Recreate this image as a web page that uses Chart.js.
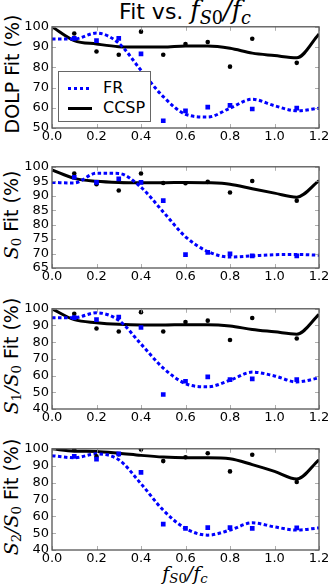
<!DOCTYPE html>
<html>
<head>
<meta charset="utf-8">
<script src="https://cdn.jsdelivr.net/npm/chart.js@4"></script>
<style>
body { margin: 0; background: #fff; }
#fig { position: relative; width: 332px; height: 588px; font-family: "DejaVu Sans", sans-serif; color: #000; }
#fig canvas { position: absolute; left: 0; }
.ylab { position: absolute; white-space: nowrap; transform: translate(-50%, -50%) rotate(-90deg); font-size: 19px; }
.m { font-family: "DejaVu Serif", serif; font-style: italic; }
.m sub { font-size: 0.7em; vertical-align: -0.3em; }
.up { font-style: normal; }
#title { position: absolute; left: 185px; top: 12px; transform: translate(-50%, -50%); font-size: 22px; white-space: nowrap; }
#title .m { font-size: 1.15em; }
#xlab { position: absolute; left: 185px; top: 574px; transform: translate(-50%, -50%); font-size: 19px; white-space: nowrap; }
#legend { position: absolute; left: 58px; top: 71px; width: 91px; height: 49px; border: 1.5px solid #666; background: #fff; font-size: 16px; }
.row { position: absolute; left: 9px; height: 20px; }
.sample { position: absolute; left: 0; top: 9px; width: 24px; height: 3px; }
.row span { position: absolute; left: 35px; top: 0; }
</style>
</head>
<body>
<div id="fig">
  <div id="title">Fit vs. <span class="m">f<sub>S<span class="up">0</span></sub>/f<sub>c</sub></span></div>
  <div class="ylab" style="left:12px;top:74px">DOLP Fit (%)</div>
  <div class="ylab" style="left:12px;top:215px"><span class="m">S<sub class="up">0</sub></span> Fit (%)</div>
  <div class="ylab" style="left:12px;top:356px"><span class="m">S<sub class="up">1</sub>/S<sub class="up">0</sub></span> Fit (%)</div>
  <div class="ylab" style="left:12px;top:497px"><span class="m">S<sub class="up">2</sub>/S<sub class="up">0</sub></span> Fit (%)</div>
  <div id="xlab"><span class="m">f<sub>S<span class="up">0</span></sub>/f<sub>c</sub></span></div>
</div>
<script>
// abscissas
const xLine = [0, 0.1, 0.2, 0.3, 0.4, 0.5, 0.6, 0.7, 0.8, 0.9, 1.0, 1.1, 1.2];
const xPts = [0.1, 0.2, 0.3, 0.4, 0.5, 0.6, 0.7, 0.8, 0.9, 1.1];

// DOLP
const dolpCcspLine = [100, 93.2, 91.5, 90.2, 90, 90, 90.5, 90.5, 89.4, 87, 85.8, 84.7, 96.4];
const dolpFrLine = [94, 94, 96.9, 91.9, 78.5, 65.5, 56.8, 55.4, 59.8, 64.2, 61, 58.5, 59.8];
const dolpCcspPts = [96.7, 87.8, 86.2, 97.6, 86.2, 91.5, 92.5, 80.3, 94.1, 82.2];
const dolpFrPts = [94.3, 93.2, 94.3, 86.6, 53.6, 58.5, 60.3, 61.2, 59.4, 59.8];

// S0
const s0CcspLine = [98.9, 96, 95, 94.6, 94.5, 94.5, 94.6, 94.5, 94, 92.4, 90.9, 89.5, 95.2];
const s0FrLine = [94.6, 94.4, 97.8, 97.7, 92.9, 84.4, 75.8, 70.7, 68.8, 69.2, 69.6, 69.7, 69.4];
const s0CcspPts = [97.7, 94, 91.8, 97.7, 94.4, 94.3, 94.8, 91.1, 95.1, 88.3];
const s0FrPts = [96.4, 94.6, 95.8, 94.6, 88.3, 69.6, 70.4, 69.9, 69.2, 69.2];

// S1/S0
const s1CcspLine = [100, 93.5, 91.7, 90.7, 90.3, 90.3, 90.5, 90.5, 89.7, 87.6, 86.2, 84.8, 96.6];
const s1FrLine = [94.7, 94.7, 97.6, 93.1, 78.9, 64.5, 55.2, 53.3, 57.2, 62.1, 59.8, 56.2, 58.6];
const s1CcspPts = [97, 88.2, 86.4, 98, 86.4, 92.1, 92.9, 81.3, 94.5, 82.2];
const s1FrPts = [94.7, 93.5, 95.1, 88.8, 48.7, 56.6, 59.2, 57.6, 58, 57.6];

// S2/S0
const s2CcspLine = [100, 98.6, 98.4, 97.4, 96.1, 95.1, 94.7, 94.7, 94.1, 90.6, 86.6, 82.1, 93.5];
const s2FrLine = [95.9, 94.7, 97, 93.5, 79.3, 63.6, 52.8, 48.8, 51.8, 56.1, 53.7, 51.8, 53.1];
const s2CcspPts = [99.4, 95.5, 96.7, 99.6, 92.7, 95, 97.4, 86.6, 96.5, 80.3];
const s2FrPts = [95.5, 93.9, 97, 86, 55.3, 52.8, 53.3, 53.3, 52.8, 53.1];

const xTicks = [0, 0.2, 0.4, 0.6, 0.8, 1.0, 1.2];
const yTicksDolp = [50, 60, 70, 80, 90, 100];
const yTicksS0 = [65, 70, 75, 80, 85, 90, 95, 100];
const yTicksRatio = [40, 50, 60, 70, 80, 90, 100];

// cadre + petites graduations vers l'intérieur (style matplotlib)
const cadre = {
    id: 'cadre',
    afterDraw(chart) {
        const { ctx, chartArea: a, scales } = chart;
        ctx.save();
        ctx.strokeStyle = '#999';
        ctx.lineWidth = 0.8;
        ctx.beginPath();
        scales.x.ticks.forEach(t => {
            const px = Math.round(scales.x.getPixelForValue(t.value)) + 0.5;
            ctx.moveTo(px, a.bottom); ctx.lineTo(px, a.bottom - 4);
            ctx.moveTo(px, a.top); ctx.lineTo(px, a.top + 4);
        });
        scales.y.ticks.forEach(t => {
            const py = Math.round(scales.y.getPixelForValue(t.value)) + 0.5;
            ctx.moveTo(a.left, py); ctx.lineTo(a.left + 4, py);
            ctx.moveTo(a.right, py); ctx.lineTo(a.right - 4, py);
        });
        ctx.stroke();
        ctx.strokeStyle = '#555';
        ctx.lineWidth = 1.3;
        ctx.strokeRect(a.left, a.top, a.right - a.left, a.bottom - a.top);
        ctx.restore();
    }
};

function pts(xs, ys) {
    return xs.map((x, i) => ({ x: x, y: ys[i] }));
}

function graphique(top, height, yTicks, ccspLine, frLine, ccspPts, frPts) {
    const canvas = document.createElement('canvas');
    canvas.width = 332;
    canvas.height = height + 10 + 22;
    canvas.style.top = (top - 10) + 'px';
    document.getElementById('fig').appendChild(canvas);

    new Chart(canvas.getContext('2d'), {
        type: 'scatter',
        data: {
            datasets: [
                {
                    label: 'FR pts', data: pts(xPts, frPts), showLine: false,
                    pointStyle: 'rect', pointRadius: 3.3, backgroundColor: '#0000ff', borderWidth: 0
                },
                {
                    label: 'CCSP pts', data: pts(xPts, ccspPts), showLine: false,
                    pointStyle: 'circle', pointRadius: 2.3, backgroundColor: '#000', borderWidth: 0
                },
                {
                    label: 'FR', data: pts(xLine, frLine), showLine: true, pointRadius: 0,
                    borderColor: '#0000ff', borderWidth: 3, borderDash: [3.5, 2.5],
                    cubicInterpolationMode: 'monotone'
                },
                {
                    label: 'CCSP', data: pts(xLine, ccspLine), showLine: true, pointRadius: 0,
                    borderColor: '#000', borderWidth: 3, cubicInterpolationMode: 'monotone'
                }
            ]
        },
        options: {
            responsive: false,
            animation: false,
            devicePixelRatio: 1,
            layout: { padding: { top: 10, right: 13, left: 0, bottom: 0 } },
            plugins: { legend: { display: false }, tooltip: { enabled: false } },
            scales: {
                x: {
                    type: 'linear', min: 0, max: 1.2,
                    afterBuildTicks: s => { s.ticks = xTicks.map(v => ({ value: v })); },
                    afterFit: s => { s.height = 22; },
                    grid: { display: false, drawTicks: false },
                    border: { display: false },
                    ticks: { autoSkip: false, maxRotation: 0, padding: 1, color: '#000', font: { family: 'DejaVu Sans', size: 13 }, callback: v => v.toFixed(1) }
                },
                y: {
                    min: yTicks[0], max: yTicks[yTicks.length - 1],
                    afterBuildTicks: s => { s.ticks = yTicks.map(v => ({ value: v })); },
                    afterFit: s => { s.width = 52; },
                    grid: { display: false, drawTicks: false },
                    border: { display: false },
                    ticks: { autoSkip: false, padding: 3, color: '#000', font: { family: 'DejaVu Sans', size: 13 }, callback: v => String(v) }
                }
            }
        },
        plugins: [cadre]
    });
}

graphique(26, 102, yTicksDolp, dolpCcspLine, dolpFrLine, dolpCcspPts, dolpFrPts);
graphique(166, 102, yTicksS0, s0CcspLine, s0FrLine, s0CcspPts, s0FrPts);
graphique(308, 101, yTicksRatio, s1CcspLine, s1FrLine, s1CcspPts, s1FrPts);
graphique(448, 102, yTicksRatio, s2CcspLine, s2FrLine, s2CcspPts, s2FrPts);

// légende du premier graphique
const legende = document.createElement('div');
legende.id = 'legend';
legende.innerHTML =
    '<div class="row" style="top:6px"><div class="sample" style="background:repeating-linear-gradient(90deg,#0000ff 0 3.5px,transparent 3.5px 6px)"></div><span>FR</span></div>' +
    '<div class="row" style="top:26px"><div class="sample" style="background:#000"></div><span>CCSP</span></div>';
document.getElementById('fig').appendChild(legende);
</script>
</body>
</html>
